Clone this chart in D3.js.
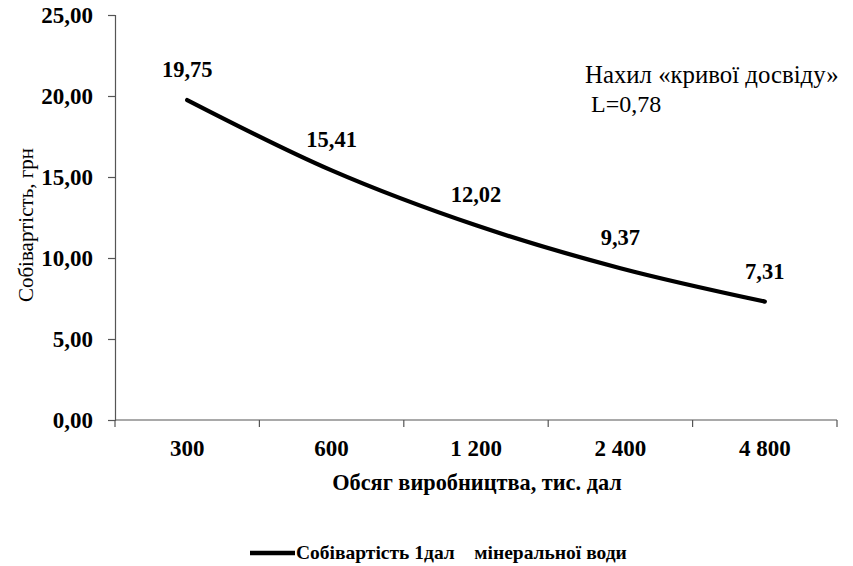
<!DOCTYPE html>
<html>
<head>
<meta charset="utf-8">
<script src="https://cdn.jsdelivr.net/npm/d3@7"></script>
<style>
  html, body { margin: 0; padding: 0; background: #fff; }
</style>
</head>
<body>
<svg id="chart" width="853" height="566"></svg>
<script>
// Production volume categories (thousand decalitres)
const volumes = ["300", "600", "1 200", "2 400", "4 800"];
// Unit cost per decalitre, UAH
const unitCost = [19.75, 15.41, 12.02, 9.37, 7.31];
// Y axis tick values
const yTicks = [0, 5, 10, 15, 20, 25];

const FONT = "\"Liberation Serif\"";
const svg = d3.select("#chart");
const margin = { left: 115, right: 16, top: 15, bottom: 146 };
const W = 853, H = 566;
const plotW = W - margin.left - margin.right;
const plotH = H - margin.top - margin.bottom;

const fmt = v => d3.format(".2f")(v).replace(".", ",");

const x = d3.scaleBand().domain(volumes).range([margin.left, margin.left + plotW]).padding(0);
const y = d3.scaleLinear().domain([0, 25]).range([margin.top + plotH, margin.top]);

// Y axis
const yAxis = svg.append("g")
  .attr("transform", `translate(${margin.left},0)`)
  .call(d3.axisLeft(y).tickValues(yTicks).tickFormat(fmt).tickSize(7).tickPadding(15));
yAxis.attr("font-family", null);
yAxis.select(".domain").attr("stroke", "#555").attr("stroke-width", 1.2);
yAxis.selectAll(".tick line").attr("stroke", "#555").attr("stroke-width", 1.2);
yAxis.selectAll(".tick text")
  .style("font-family", FONT)
  .attr("dy", "0.34em")
  .attr("font-size", 23).attr("font-weight", "bold").attr("fill", "#000");

// X axis with ticks at category boundaries
const xAxisG = svg.append("g")
  .attr("transform", `translate(0,${margin.top + plotH})`);
xAxisG.append("line")
  .attr("x1", margin.left).attr("x2", margin.left + plotW)
  .attr("y1", 0).attr("y2", 0)
  .attr("stroke", "#555").attr("stroke-width", 1.2);
const bounds = volumes.map(v => x(v)).concat([x(volumes[volumes.length - 1]) + x.bandwidth()]);
xAxisG.selectAll("line.tick").data(bounds).join("line")
  .attr("class", "tick")
  .attr("x1", d => d).attr("x2", d => d)
  .attr("y1", 0).attr("y2", 7)
  .attr("stroke", "#555").attr("stroke-width", 1.2);
xAxisG.selectAll("text.lbl").data(volumes).join("text")
  .attr("class", "lbl")
  .attr("x", d => x(d) + x.bandwidth() / 2)
  .attr("y", 36)
  .attr("text-anchor", "middle")
  .style("font-family", FONT)
  .attr("font-size", 23).attr("font-weight", "bold")
  .text(d => d);

// Axis titles
svg.append("text")
  .attr("x", 477)
  .attr("y", 490)
  .attr("text-anchor", "middle")
  .style("font-family", FONT)
  .attr("font-size", 22.3).attr("font-weight", "bold")
  .text("Обсяг виробництва, тис. дал");

svg.append("text")
  .attr("transform", `translate(33,225) rotate(-90)`)
  .attr("text-anchor", "middle")
  .style("font-family", FONT)
  .attr("font-size", 21)
  .text("Собівартість, грн");

// Cost curve
const pts = volumes.map((v, i) => [x(v) + x.bandwidth() / 2, y(unitCost[i])]);
svg.append("path")
  .datum(pts)
  .attr("fill", "none")
  .attr("stroke", "#000")
  .attr("stroke-width", 4.3)
  .attr("stroke-linecap", "round")
  .attr("d", d3.line().curve(d3.curveCatmullRom.alpha(0.5)));

// Value labels
svg.selectAll("text.val").data(unitCost).join("text")
  .attr("class", "val")
  .attr("x", (d, i) => x(volumes[i]) + x.bandwidth() / 2)
  .attr("y", d => y(d) - 23)
  .attr("text-anchor", "middle")
  .style("font-family", FONT)
  .attr("font-size", 22.5).attr("font-weight", "bold")
  .text(fmt);

// Annotation
svg.append("text")
  .attr("x", 585).attr("y", 83)
  .style("font-family", FONT)
  .attr("font-size", 24.8)
  .text("Нахил «кривої досвіду»");
svg.append("text")
  .attr("x", 591).attr("y", 112)
  .style("font-family", FONT)
  .attr("font-size", 24)
  .text("L=0,78");

// Legend
svg.append("line")
  .attr("x1", 250).attr("x2", 295)
  .attr("y1", 553).attr("y2", 553)
  .attr("stroke", "#000").attr("stroke-width", 4.3);
svg.append("text")
  .attr("x", 296).attr("y", 559)
  .style("font-family", FONT)
  .style("white-space", "pre")
  .attr("font-size", 19.5).attr("font-weight", "bold")
  .text("Собівартість 1дал    мінеральної води");
</script>
</body>
</html>
